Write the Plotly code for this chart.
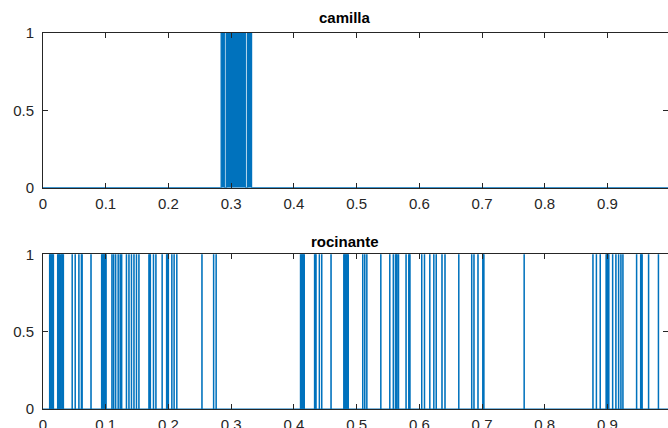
import plotly.graph_objects as go

# "on" intervals (start, end) of the binary signals
camilla_on = [
    (0.2840, 0.2898), (0.2926, 0.3232), (0.3262, 0.3326),
]
rocinante_on = [
    (0.0104, 0.0168), (0.0232, 0.0272), (0.0288, 0.0327), (0.0463, 0.0468),
    (0.0511, 0.0516), (0.0570, 0.0575), (0.0610, 0.0626), (0.0763, 0.0768),
    (0.0933, 0.1008), (0.1097, 0.1102), (0.1124, 0.1129), (0.1156, 0.1161),
    (0.1196, 0.1201), (0.1228, 0.1233), (0.1252, 0.1257), (0.1328, 0.1333),
    (0.1368, 0.1373), (0.1408, 0.1413), (0.1448, 0.1453), (0.1488, 0.1493),
    (0.1527, 0.1532), (0.1687, 0.1714), (0.1759, 0.1764), (0.1798, 0.1803),
    (0.1897, 0.1902), (0.1969, 0.2001), (0.2052, 0.2057), (0.2088, 0.2093),
    (0.2131, 0.2136), (0.2532, 0.2537), (0.2718, 0.2723), (0.2758, 0.2763),
    (0.4104, 0.4168), (0.4328, 0.4355), (0.4404, 0.4409), (0.4442, 0.4447),
    (0.4590, 0.4595), (0.4794, 0.4869), (0.5096, 0.5101), (0.5128, 0.5133),
    (0.5161, 0.5166), (0.5384, 0.5389), (0.5527, 0.5532), (0.5583, 0.5588),
    (0.5618, 0.5645), (0.5666, 0.5671), (0.5786, 0.5791), (0.5830, 0.5853),
    (0.6036, 0.6041), (0.6080, 0.6085), (0.6165, 0.6170), (0.6229, 0.6234),
    (0.6267, 0.6272), (0.6359, 0.6364), (0.6407, 0.6412), (0.6627, 0.6632),
    (0.6833, 0.6838), (0.6869, 0.6874), (0.6933, 0.6938), (0.7010, 0.7032),
    (0.7669, 0.7674), (0.8766, 0.8771), (0.8821, 0.8826), (0.8882, 0.8887),
    (0.8976, 0.9024), (0.9080, 0.9085), (0.9132, 0.9137), (0.9175, 0.9180),
    (0.9212, 0.9217), (0.9244, 0.9249), (0.9462, 0.9467), (0.9527, 0.9555),
    (0.9653, 0.9658), (0.9810, 0.9815),
]
titles = ["camilla", "rocinante"]
x_ticks = [0, 0.1, 0.2, 0.3, 0.4, 0.5, 0.6, 0.7, 0.8, 0.9, 1]
x_ticklabels = ["0", "0.1", "0.2", "0.3", "0.4", "0.5", "0.6", "0.7", "0.8", "0.9", "1"]
y_ticks = [0, 0.5, 1]
y_ticklabels = ["0", "0.5", "1"]

BLUE = "#0072BD"
AX = "#262626"
FONT = "Liberation Sans, Arial, sans-serif"


def step_xy(intervals):
    xs, ys = [0.0], [0.0]
    for a, b in intervals:
        xs += [a, a, b, b]
        ys += [0, 1, 1, 0]
    xs.append(1.0)
    ys.append(0)
    return xs, ys


fig = go.Figure()
for i, data in enumerate([camilla_on, rocinante_on]):
    xs, ys = step_xy(data)
    sfx = "" if i == 0 else "2"
    fig.add_trace(go.Scatter(
        x=xs, y=ys, mode="lines", fill="tozeroy", fillcolor=BLUE,
        line=dict(color=BLUE, width=1.2), xaxis="x" + sfx, yaxis="y" + sfx,
        showlegend=False, hoverinfo="skip",
    ))

axis_common = dict(
    showline=True, linecolor=AX, linewidth=1, mirror="ticks",
    ticks="inside", ticklen=5, tickcolor=AX, tickwidth=1,
    showgrid=False, zeroline=False, automargin=False,
    tickfont=dict(family=FONT, size=15, color=AX),
)
xr = [0, 0.9965]
fig.update_layout(
    width=668, height=428,
    margin=dict(l=43, r=0, t=33, b=19),
    paper_bgcolor="white", plot_bgcolor="white",
    xaxis=dict(range=xr, tickvals=x_ticks, ticktext=x_ticklabels, anchor="y",
               ticklabelstandoff=2, **axis_common),
    yaxis=dict(range=[0, 1], tickvals=y_ticks, ticktext=y_ticklabels, domain=[0.5886, 1],
               anchor="x", ticklabelstandoff=5, **axis_common),
    xaxis2=dict(range=xr, tickvals=x_ticks, ticktext=x_ticklabels, anchor="y2",
                ticklabelstandoff=2, **axis_common),
    yaxis2=dict(range=[0, 1], tickvals=y_ticks, ticktext=y_ticklabels, domain=[0, 0.4114],
                anchor="x2", ticklabelstandoff=5, **axis_common),
    annotations=[
        dict(text="<b>%s</b>" % titles[0], x=0.483, y=1.04, xref="paper", yref="paper",
             showarrow=False, xanchor="center", yanchor="middle",
             font=dict(family=FONT, size=15, color="black")),
        dict(text="<b>%s</b>" % titles[1], x=0.483, y=0.4468, xref="paper", yref="paper",
             showarrow=False, xanchor="center", yanchor="middle",
             font=dict(family=FONT, size=15, color="black")),
    ],
)

fig.write_html("out.html")
